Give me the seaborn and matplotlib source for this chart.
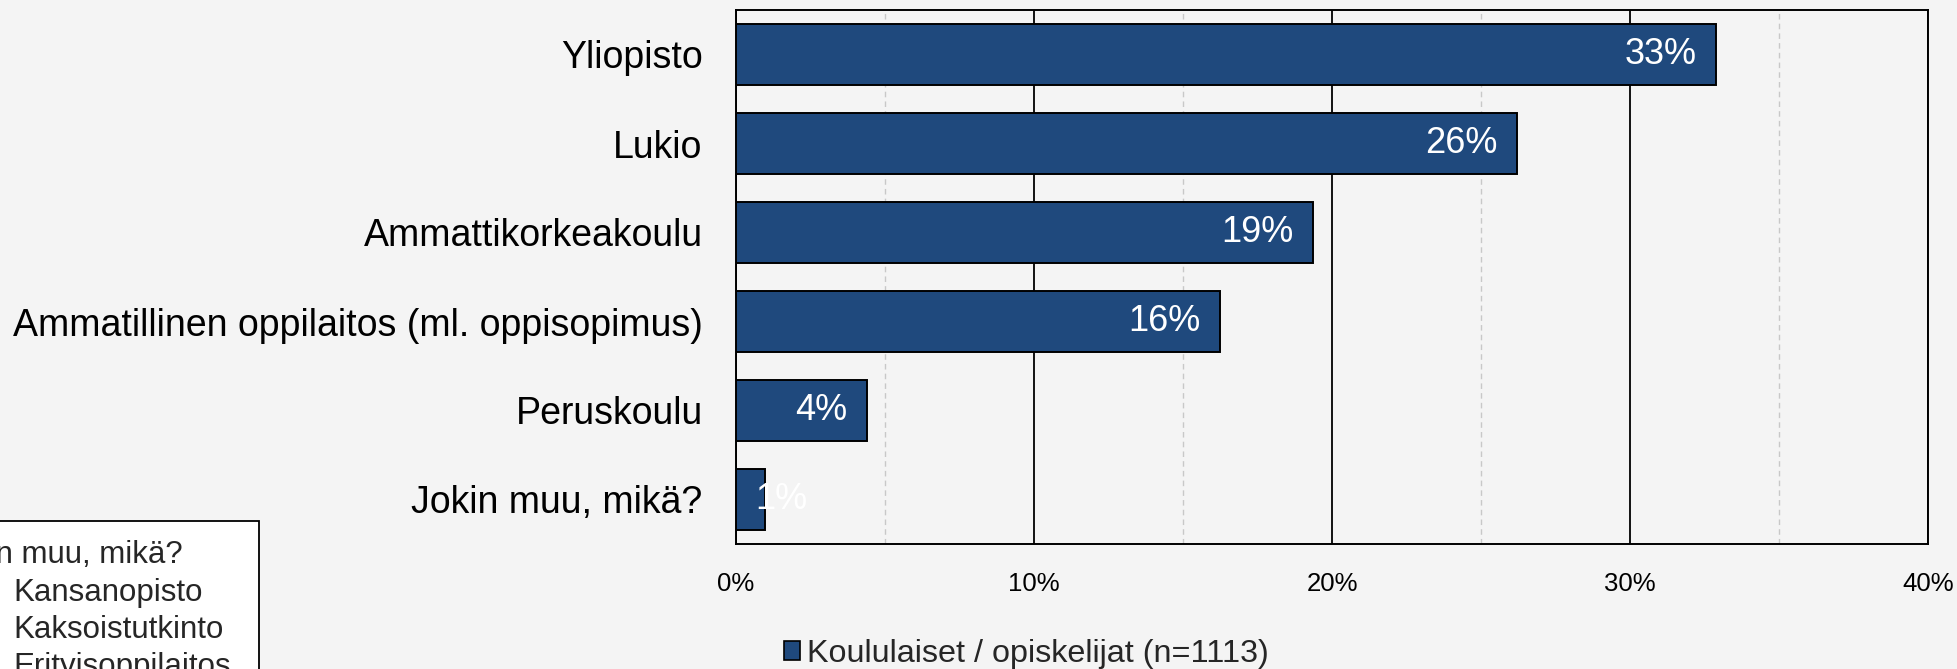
import matplotlib
matplotlib.use("Agg")
import matplotlib.pyplot as plt
from matplotlib.patches import Rectangle, Patch
from matplotlib.ticker import MultipleLocator, FuncFormatter
import pandas as pd
import seaborn as sns

# ── data ──
categories = [
    "Yliopisto",
    "Lukio",
    "Ammattikorkeakoulu",
    "Ammatillinen oppilaitos (ml. oppisopimus)",
    "Peruskoulu",
    "Jokin muu, mikä?",
]
shares = [32.9, 26.2, 19.35, 16.25, 4.4, 0.96]
series_name = "Koululaiset / opiskelijat (n=1113)"
x_ticks = [0, 10, 20, 30, 40]
other_title = "Jokin muu, mikä?"
other_items = ["Kansanopisto", "Kaksoistutkinto", "Erityisoppilaitos"]

bar_color = "#1f497d"
bg = "#f4f4f4"

sns.set_theme(style="white")
plt.rcParams["font.family"] = ["Liberation Sans", "DejaVu Sans"]

df = pd.DataFrame({"category": categories, "share": shares})

W, H = 1957, 669
fig = plt.figure(figsize=(W / 100, H / 100), dpi=100, facecolor=bg)
ax = fig.add_axes([736 / W, 1 - 544 / H, (1928 - 736) / W, (544 - 10) / H])
ax.set_facecolor(bg)

sns.barplot(data=df, x="share", y="category", orient="h", color=bar_color,
            saturation=1, width=0.675, edgecolor="black", linewidth=1.4, ax=ax)

ax.set_xlim(x_ticks[0], x_ticks[-1])
ax.set_ylim(len(categories) - 0.5, -0.5)
ax.set_xticks(x_ticks)
ax.xaxis.set_major_formatter(FuncFormatter(lambda v, p: f"{v:.0f}%"))
ax.xaxis.set_minor_locator(MultipleLocator(5))
ax.set_axisbelow(True)
ax.grid(axis="x", which="major", color="black", linewidth=1.3)
ax.grid(axis="x", which="minor", color="#c8c8c8", linewidth=1.0, linestyle=(0, (4, 3)))
ax.tick_params(axis="x", which="both", length=0, pad=20, labelsize=18.5, colors="black")
ax.tick_params(axis="y", length=0, pad=24, labelsize=27, colors="black")
ax.set_xlabel("")
ax.set_ylabel("")
for s in ax.spines.values():
    s.set_visible(True)
    s.set_color("black")
    s.set_linewidth(1.4)

# value labels: inside end, or from the base when the bar is too short
for i, v in enumerate(shares):
    if v >= 3:
        ax.annotate(f"{round(v)}%", xy=(v, i), xytext=(-14, 0), textcoords="offset points",
                    ha="right", va="center", color="white", fontsize=26)
    else:
        ax.annotate(f"{round(v)}%", xy=(0, i), xytext=(14, 0), textcoords="offset points",
                    ha="left", va="center", color="white", fontsize=26)

# legend
handle = Patch(facecolor=bar_color, edgecolor="black", linewidth=1.2)
fig.legend([handle], [series_name], loc="center left",
           bbox_to_anchor=(784 / W, 1 - 654 / H), frameon=False, fontsize=23.3,
           handlelength=0.5, handleheight=0.5, handletextpad=0.2, borderpad=0,
           borderaxespad=0)

# clipped note box in the lower left corner
fig.patches.append(Rectangle((-20 / W, -50 / H), 279 / W, (H + 50 - 521) / H,
                             transform=fig.transFigure, facecolor="white",
                             edgecolor="black", linewidth=1.3, zorder=5))
fig.text(-60 / W, 1 - 563 / H, other_title, fontsize=22.5, ha="left",
         va="baseline", zorder=6)
for k, item in enumerate(other_items):
    fig.text(13 / W, 1 - (600.5 + 37.5 * k) / H, item, fontsize=22.5, ha="left",
             va="baseline", zorder=6)

fig.savefig("out.png", dpi=100, facecolor=bg)
